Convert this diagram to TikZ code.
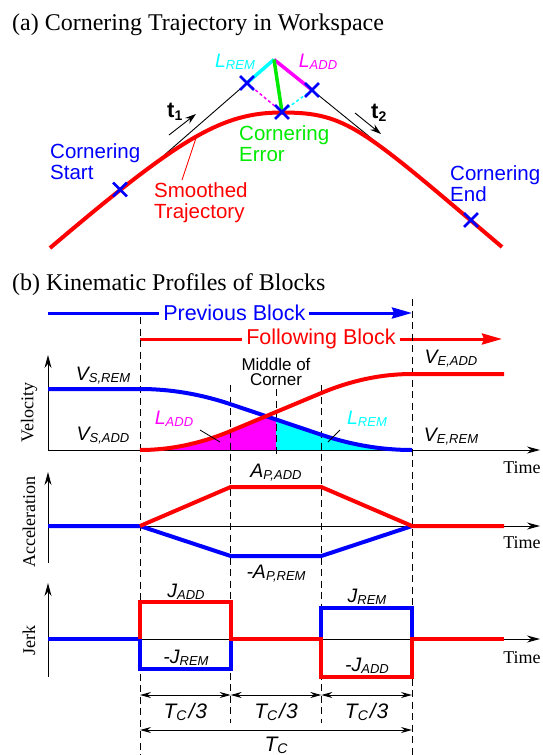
\documentclass[tikz,border=0pt]{standalone}
\usepackage{fontspec}
\setmainfont{Liberation Serif}
\setsansfont{Liberation Sans}
\usetikzlibrary{arrows.meta,shapes.misc}
\definecolor{cgreen}{RGB}{0,235,0}
\definecolor{ccyan}{RGB}{0,255,255}
\definecolor{cmag}{RGB}{255,0,255}
\definecolor{cblue}{RGB}{0,0,255}
\definecolor{cred}{RGB}{255,0,0}
\newcommand{\sublab}[2]{{\itshape #1}\raisebox{-2pt}{\fontsize{13}{13}\selectfont\itshape #2}}
\tikzset{
 lab/.style={font=\sffamily\fontsize{19.5}{21}\selectfont, inner sep=0pt},
 big/.style={font=\sffamily\fontsize{20.5}{21.5}\selectfont, inner sep=0pt, align=left, anchor=north west},
 ttl/.style={font=\fontsize{24}{25}\selectfont, inner sep=0pt, anchor=base west},
 axlab/.style={font=\fontsize{18}{18}\selectfont, inner sep=0pt},
 xmark/.style={cross out, draw=cblue, line width=2.8pt, minimum size=11pt, inner sep=0pt},
 prof/.style={line width=4pt},
 thinline/.style={line width=0.9pt},
 vdash/.style={line width=0.8pt, dash pattern=on 7pt off 4.5pt},
 axisline/.style={line width=1pt, -{Stealth[length=13pt,width=7pt]}},
 dimline/.style={line width=1pt, {Stealth[length=11pt,width=6pt]}-{Stealth[length=11pt,width=6pt]}},
 blockarrow/.style={line width=3pt, -{Stealth[length=20pt,width=11pt,inset=2pt]}},
 blocklab/.style={fill=white, inner xsep=4pt, inner ysep=0pt, font=\sffamily\fontsize{21.5}{23}\selectfont},
 tarrow/.style={thinline, -{Stealth[length=11pt,width=7pt]}},
 pointer/.style={line width=0.8pt},
 tclab/.style={font=\sffamily\itshape\fontsize{21}{21}\selectfont, inner sep=0pt},
 tlab/.style={anchor=base west, inner sep=0pt, font=\sffamily\bfseries\fontsize{22}{22}\selectfont},
}
\begin{document}
\begin{tikzpicture}[x=1pt,y=-1pt]
\useasboundingbox (0,0) rectangle (543,755);
% ---------------- (a) ----------------
\node[ttl] (ta) at (12,30) {(a) Cornering Trajectory in Workspace};
\coordinate (V) at (274,59.5);
\coordinate (LX) at (247,83);
\coordinate (RX) at (312,90);
\coordinate (MX) at (282,112);
\coordinate (bl) at (146,171);
\coordinate (br) at (420,177.8);
\draw[thinline] (bl) -- (LX);
\draw[thinline] (RX) -- (br);
\draw[cmag, line width=1.5pt, dash pattern=on 3pt off 2.5pt] (LX) -- (MX);
\draw[ccyan, line width=1.5pt, dash pattern=on 3pt off 2.5pt] (RX) -- (MX);
\coordinate (rs) at (50,248);
\coordinate (re) at (502,247);
\draw[cred, line width=4pt] (rs) .. controls (180,137.5) and (222,112.5) .. (282,112.5)
   .. controls (347,112.5) and (362,128) .. (re);
\draw[ccyan, line width=3.5pt] (LX) -- (V);
\draw[cmag, line width=3.5pt] (V) -- (RX);
\draw[cgreen, line width=3.5pt] (V) -- (MX);
\node[xmark] (xl) at (LX) {};
\node[xmark] (xr) at (RX) {};
\node[xmark] (xm) at (MX) {};
\node[xmark] (xs) at (120,189.5) {};
\node[xmark] (xe) at (471,220) {};
\coordinate (t1a) at (169,135); \coordinate (t1b) at (196,114);
\coordinate (t2a) at (355,113); \coordinate (t2b) at (381,134);
\draw[tarrow] (t1a) -- (t1b);
\draw[tarrow] (t2a) -- (t2b);
\node[tlab] (t1) at (167,117) {t\raisebox{-3pt}{\fontsize{14}{14}\selectfont 1}};
\node[tlab] (t2) at (371,118) {t\raisebox{-3pt}{\fontsize{14}{14}\selectfont 2}};
\node[lab, ccyan] (lrem) at (235,62) {\sublab{L}{REM}};
\node[lab, cmag] (ladd) at (318,62) {\sublab{L}{ADD}};
\node[big, cgreen] (cer) at (239,125) {Cornering\\Error};
\node[big, cblue] (cst) at (50,143) {Cornering\\Start};
\node[big, cblue] (cen) at (450,165) {Cornering\\End};
\node[big, cred] (smt) at (154,182) {Smoothed\\Trajectory};
\coordinate (sp1) at (182,180); \coordinate (sp2) at (197,135);
\draw[cred, pointer] (sp1) -- (sp2);
% ---------------- (b) ----------------
\node[ttl] (tb) at (12,290) {(b) Kinematic Profiles of Blocks};
\coordinate (pb1) at (48,313); \coordinate (pb2) at (412,313);
\coordinate (fb1) at (140,339); \coordinate (fb2) at (502,339);
\draw[cblue, blockarrow] (pb1) -- node[pos=0.512, blocklab, text=cblue] (pbl) {Previous Block} (pb2);
\draw[cred, blockarrow] (fb1) -- node[pos=0.5, blocklab, text=cred] (fbl) {Following Block} (fb2);
% fills
\fill[cmag] (140,450) .. controls (170.22,450) and (200.44,443.67) .. (230.67,431)
   -- (266.07,416.16) -- (276,419.5) -- (276,450) -- cycle;
\fill[ccyan] (276,450) -- (276,419.5) -- (321.33,434.75) .. controls (351.56,444.92) and (381.78,450) .. (412,450) -- cycle;
% dashed verticals
\draw[vdash] (140,317) -- (140,755);
\draw[vdash] (412,299) -- (412,755);
\draw[vdash] (230.67,385) -- (230.67,723);
\draw[vdash] (321.33,385) -- (321.33,723);
\draw[vdash] (276,389) -- (276,456);
% velocity
\coordinate (vo) at (48,450);
\draw[axisline] (vo) -- (48,355);
\draw[axisline] (vo) -- (540,450);
\draw[cblue, prof] (48,389) -- (140,389) .. controls (170.22,389) and (200.44,394.08) .. (230.67,404.25)
   -- (321.33,434.75) .. controls (351.56,444.92) and (381.78,450) .. (412,450);
\draw[cred, prof] (140,450) .. controls (170.22,450) and (200.44,443.67) .. (230.67,431)
   -- (321.33,393) .. controls (351.56,380.33) and (381.78,374) .. (412,374) -- (504,374);
\node[axlab, rotate=90] (vl) at (29,413) {Velocity};
\node[axlab] (tm1) at (522,468) {Time};
\node[lab] (vsr) at (103,376) {\sublab{V}{S,REM}};
\node[lab] (vsa) at (103,436) {\sublab{V}{S,ADD}};
\node[lab] (vea) at (451,359) {\sublab{V}{E,ADD}};
\node[lab] (ver) at (451,437) {\sublab{V}{E,REM}};
\node[font=\sffamily\fontsize{17}{15.5}\selectfont, align=center, inner sep=0pt] (moc) at (276,372) {Middle of\\Corner};
\node[lab, cmag] (la2) at (174,419) {\sublab{L}{ADD}};
\node[lab, ccyan] (lr2) at (367,419) {\sublab{L}{REM}};
\coordinate (pa1) at (200,430); \coordinate (pa2) at (220,442);
\coordinate (pr1) at (340,430); \coordinate (pr2) at (328,442);
\draw[pointer] (pa1) -- (pa2);
\draw[pointer] (pr1) -- (pr2);
% acceleration
\coordinate (ao) at (48,526);
\draw[axisline] (48,563) -- (48,472);
\draw[axisline] (ao) -- (540,526);
\draw[cblue, prof] (48,526) -- (140,526) -- (230.67,556) -- (321.33,556) -- (412,526);
\draw[cred, prof] (140,526) -- (230.67,487) -- (321.33,487) -- (412,526) -- (504,526);
\node[axlab, rotate=90] (al) at (29,522) {Acceleration};
\node[axlab] (tm2) at (522,543) {Time};
\node[lab] (apa) at (276,473) {\sublab{A}{P,ADD}};
\node[lab] (apr) at (276,574) {\textit{-}\sublab{A}{P,REM}};
% jerk
\coordinate (jo) at (48,639);
\draw[axisline] (48,677) -- (48,583);
\draw[axisline] (jo) -- (540,639);
\draw[cblue, prof] (48,639) -- (140,639) -- (140,669) -- (230.67,669) -- (230.67,639);
\draw[cblue, prof] (321.33,639) -- (321.33,608) -- (412,608) -- (412,639);
\draw[cred, prof] (140,639) -- (140,602) -- (230.67,602) -- (230.67,639) -- (321.33,639)
   -- (321.33,677) -- (412,677) -- (412,639) -- (504,639);
\node[axlab, rotate=90] (jl) at (29,640) {Jerk};
\node[axlab] (tm3) at (522,658) {Time};
\node[lab] (ja) at (186,592) {\sublab{J}{ADD}};
\node[lab] (jr) at (186,658) {\textit{-}\sublab{J}{REM}};
\node[lab] (jr2) at (367,597) {\sublab{J}{REM}};
\node[lab] (ja2) at (367,666) {\textit{-}\sublab{J}{ADD}};
% dimensions
\coordinate (d0) at (140,695); \coordinate (d1) at (230.67,695);
\coordinate (d2) at (321.33,695); \coordinate (d3) at (412,695);
\coordinate (e0) at (140,730); \coordinate (e3) at (412,730);
\draw[dimline] (d0) -- (d1);
\draw[dimline] (d1) -- (d2);
\draw[dimline] (d2) -- (d3);
\draw[dimline] (e0) -- (e3);
\node[tclab] (tc1) at (185.3,712) {T\raisebox{-2pt}{\fontsize{14}{14}\selectfont C}\kern2pt/\kern1pt3};
\node[tclab] (tc2) at (276,712) {T\raisebox{-2pt}{\fontsize{14}{14}\selectfont C}\kern2pt/\kern1pt3};
\node[tclab] (tc3) at (366.7,712) {T\raisebox{-2pt}{\fontsize{14}{14}\selectfont C}\kern2pt/\kern1pt3};
\node[tclab] (tc) at (276,745) {T\raisebox{-2pt}{\fontsize{14}{14}\selectfont C}};
\end{tikzpicture}
\end{document}
